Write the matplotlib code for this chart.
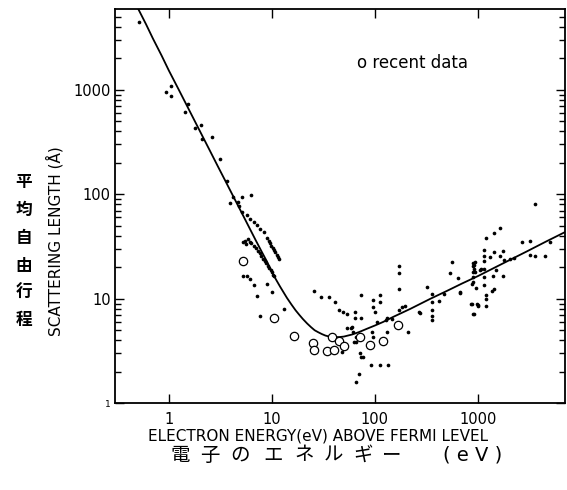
import matplotlib
matplotlib.use("Agg")
import matplotlib.pyplot as plt
from matplotlib.ticker import FixedLocator, NullLocator, LogLocator, NullFormatter, FixedFormatter

# ---- data ----
curve_E = [0.50, 0.6, 0.7, 0.85, 1.0, 1.25, 1.5, 2.0, 2.5, 3.0, 3.5, 4.12, 5.0, 6.0, 7.0, 8.0, 9.0,
           10.0, 11.0, 12.0, 13.0, 14.0, 15.5, 17.0, 18.5, 20.0, 22.0, 24.0, 26.0, 28.0, 30.5, 33.0,
           36.0, 40.0, 45.0, 50.0, 60.0, 70.0, 85.0, 100, 120, 150, 220, 345, 500, 700, 1000, 1500,
           2050, 3000, 4500, 7000]
curve_L = [6050, 4250, 3100, 2130, 1530, 1000, 703, 403, 262, 184, 137, 100, 69, 48.5, 36, 28, 22.5,
           18.0, 15.2, 13.1, 11.5, 10.2, 8.8, 7.75, 7.0, 6.4, 5.8, 5.35, 5.0, 4.8, 4.6, 4.45,
           4.35, 4.3, 4.3, 4.35, 4.55, 4.8, 5.2, 5.55, 6.0, 6.7, 8.0, 10.0, 11.9, 14.0, 16.5, 20.2,
           23.6, 28.5, 35.0, 43.5]

dots_E = [0.51, 0.93, 1.04, 1.04, 1.54, 1.45, 1.79, 2.06, 2.11, 2.61, 3.13, 3.63, 3.88, 4.17, 4.7, 4.77,
          5.1, 6.3,
          5.15, 5.67, 6.2, 6.68, 7.2, 7.75, 8.35,
          9.0, 9.3, 9.6, 9.9, 10.2, 10.5, 10.8, 11.1, 11.4, 11.7,
          5.3, 5.5, 5.6, 5.9, 6.1, 6.3,
          6.7, 7.0, 7.3, 7.6, 7.9, 8.2, 8.5, 8.8, 9.1, 9.4, 9.7, 10.0, 10.3, 10.6,
          5.27, 5.67, 6.1, 6.67, 9.0, 10.1, 7.2, 7.6, 13.0,
          25.5, 29.7, 35.7, 41.4, 44.6, 49.2, 54, 63.7, 63.7, 73.5, 73.5, 54, 58, 60, 65, 65, 61,
          96, 96, 100, 113, 113, 94.5, 96, 130, 105, 128, 147, 170, 170, 170, 170, 208, 72, 92, 111,
          133, 70, 65, 48, 63, 74, 77, 130, 185, 198, 272, 266,
          321, 359, 359, 359, 359, 359, 416, 465, 561, 531, 636, 665, 877, 980, 896, 944, 944, 863, 1010,
          3606, 2680, 3220, 3220, 3606, 4510, 4960, 1650, 1420, 1200, 1150, 1420, 1750, 1650, 1780,
          2030, 2255, 923, 923, 900, 1055, 1150, 1150, 1150, 1150, 1150, 1200, 1200, 1200, 993, 923,
          1420, 1370, 1510, 1400, 1750, 877, 960, 675, 1070, 1310, 900, 900, 900, 900]
dots_L = [4470, 950, 1100, 877, 740, 614, 434, 457, 337, 355, 220, 134, 82, 95, 85, 77,
          95, 99,
          68, 63, 58.6, 54.5, 50.7, 46.5, 43.2,
          37.8, 35.8, 33.9, 32.2, 30.6, 29.1, 27.8, 26.5, 25.3, 24.2,
          35, 36, 33.4, 37, 35, 34,
          32.2, 30.5, 28.8, 27.2, 25.7, 24.3, 23.0, 21.8, 20.7, 19.7, 18.8, 17.9, 17.0, 16.4,
          16.4, 16.6, 15.5, 13.7, 13.9, 11.6, 10.6, 6.9, 7.9,
          11.9, 10.4, 10.4, 9.3, 7.75, 7.5, 7.2, 7.5, 6.6, 10.9, 6.6, 5.3, 5.3, 5.4, 4.3, 3.9, 4.8,
          9.8, 8.3, 7.5, 10.8, 9.3, 4.8, 4.3, 4.8, 6.0, 6.2, 6.46, 7.75, 12.4, 17.7, 20.8, 4.8, 3.0, 2.3, 2.3,
          2.3, 1.89, 1.6, 3.1, 3.9, 2.8, 2.8, 6.6, 8.3, 8.6, 7.3, 7.4,
          12.9, 11.2, 9.3, 7.75, 6.9, 6.2, 9.6, 11.0, 22.6, 17.6, 15.8, 11.6, 9.0, 9.0, 7.2, 22.4, 18.0, 9.0, 8.6,
          80, 34.7, 35.9, 26.4, 25.9, 25.9, 34.7, 47.4, 42.3, 38.1, 29.3, 27.9, 28.5, 25.9, 23.5,
          24.0, 24.4, 21.1, 19.3, 18.0, 18.7, 25.9, 23.2, 19.3, 16.1, 13.5, 10.9, 10.0, 8.6, 8.7, 7.2,
          12.4, 12.0, 18.7, 16.6, 16.4, 13.9, 12.8, 11.4, 19.3, 25.1, 16.1, 14.4, 20.5, 22.2]

recent_E = [5.27, 10.5, 16.5, 25.2, 25.9, 34.4, 38.5, 40.5, 44.5, 50.5, 71.5, 89, 120, 166]
recent_L = [23.2, 6.5, 4.45, 3.81, 3.27, 3.15, 4.35, 3.27, 3.92, 3.57, 4.31, 3.59, 3.95, 5.57]

x_ticks = [1, 10, 100, 1000]
x_tick_labels = ["1", "10", "100", "1000"]
y_ticks = [1, 10, 100, 1000]
y_tick_labels = ["1", "10", "100", "1000"]

# ---- figure ----
plt.rcParams['font.family'] = ['DejaVu Sans']
fig = plt.figure(figsize=(5.67, 4.90), dpi=100)
ax = fig.add_axes([0.2028, 0.177, 0.7937, 0.804])
ax.set_xscale('log')
ax.set_yscale('log')
ax.set_xlim(0.30, 7000)
ax.set_ylim(1, 5900)

ax.plot(curve_E, curve_L, color='black', lw=1.3, zorder=3)
ax.scatter(dots_E, dots_L, s=7, color='black', linewidths=0, zorder=4)
ax.scatter(recent_E, recent_L, s=36, facecolors='white', edgecolors='black', linewidths=0.9, zorder=5)

ax.xaxis.set_major_locator(FixedLocator(x_ticks))
ax.xaxis.set_major_formatter(FixedFormatter(x_tick_labels))
ax.xaxis.set_minor_locator(NullLocator())
ax.yaxis.set_major_locator(FixedLocator(y_ticks))
ax.yaxis.set_major_formatter(FixedFormatter(y_tick_labels))
ax.yaxis.set_minor_locator(LogLocator(base=10, subs=[2, 3, 4, 5, 6, 7, 8, 9]))
ax.yaxis.set_minor_formatter(NullFormatter())

ax.tick_params(which='both', direction='in', top=True, right=True, width=1.0, color='black')
ax.tick_params(which='major', length=6.5, labelsize=10.5)
ax.tick_params(which='minor', length=4)
ax.tick_params(axis='x', which='major', pad=6)
ax.tick_params(axis='y', which='major', pad=3)
for sp in ax.spines.values():
    sp.set_linewidth(1.3)
ylabs = ax.get_yticklabels()
ylabs[0].set_fontsize(6.5)

fig.text(0.561, 0.110, "ELECTRON ENERGY(eV) ABOVE FERMI LEVEL", ha='center', va='center', fontsize=11)
fig.text(0.097, 0.508, "SCATTERING LENGTH (Å)", rotation=90, ha='center', va='center', fontsize=11)
fig.text(0.630, 0.871, "o recent data", ha='left', va='center', fontsize=12)

jp_bottom = ["電", "子", "の", "エ", "ネ", "ル", "ギ", "ー"]
jp_bottom_x = [180, 210, 240, 273, 304, 333, 363, 392]
for ch, xp in zip(jp_bottom, jp_bottom_x):
    fig.text(xp / 567, 1 - 455 / 490, ch, ha='center', va='center', fontsize=14,
             family=['Noto Sans CJK JP', 'DejaVu Sans'])
fig.text(473 / 567, 1 - 455 / 490, "( e V )", ha='center', va='center', fontsize=14,
         family=['DejaVu Sans'])

jp_left = ["平", "均", "自", "由", "行", "程"]
jp_left_y = [182, 210, 238, 266, 293, 320]
for ch, yp in zip(jp_left, jp_left_y):
    fig.text(24 / 567, 1 - yp / 490, ch, ha='center', va='center', fontsize=12, fontweight='bold',
             family=['Noto Sans CJK JP', 'DejaVu Sans'])

fig.savefig("out.png", dpi=100)
